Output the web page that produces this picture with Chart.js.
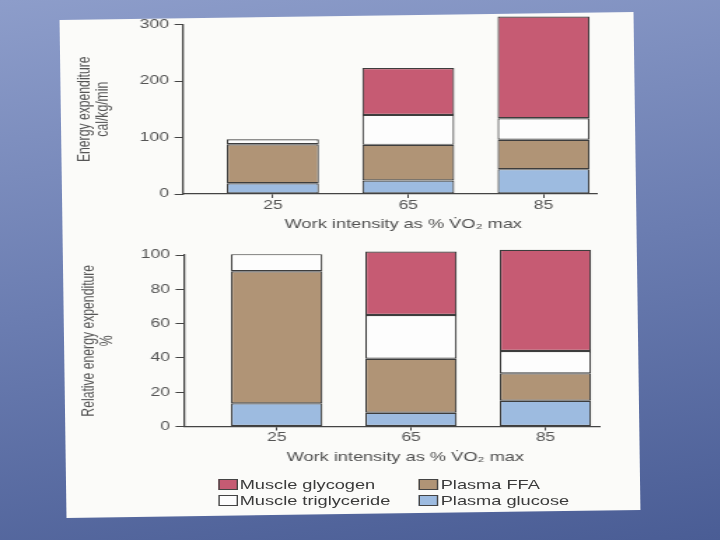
<!DOCTYPE html>
<html><head><meta charset="utf-8">
<script src="https://cdn.jsdelivr.net/npm/chart.js@4.4.1/dist/chart.umd.min.js"></script>
<style>
html,body{margin:0;padding:0;width:720px;height:540px;overflow:hidden;}
body{position:relative;background:linear-gradient(172deg,#8d9dca 0%,#6b7db1 50%,#4a5d95 100%);font-family:'Liberation Sans',Arial,sans-serif;}
#page{position:absolute;left:63px;top:16px;width:574px;height:498px;background:#fbfbf9;transform:rotate(-0.8deg);}
#stretch{position:absolute;left:0;top:0;width:514.29px;height:540px;transform:scaleX(1.4);transform-origin:0 0;}
#c1{position:absolute;left:0;top:0;}
#c2{position:absolute;left:0;top:240px;}
#legend{position:absolute;left:155.7px;top:477px;display:grid;grid-template-columns:143.6px auto;grid-template-rows:15.7px 15.7px;grid-auto-flow:column;font-size:13px;color:#3a3a3a;}
#legend .it{display:flex;align-items:center;white-space:nowrap;line-height:15.7px;}
#legend .bx{width:12px;height:9px;border:1px solid #444;margin-right:1.5px;}
</style></head>
<body>
<div id="page"></div>
<div id="stretch">
<canvas id="c1" width="514" height="245"></canvas>
<canvas id="c2" width="514" height="240"></canvas>
<div id="legend"></div>
</div>
<script>
// ---- data ----
const categories = ['25', '65', '85'];
const seriesNames = ['Plasma glucose', 'Plasma FFA', 'Muscle triglyceride', 'Muscle glycogen'];
const seriesColors = ['#9dbbe0', '#b09476', '#fdfdfd', '#c65b73'];
// absolute energy expenditure, cal/kg/min
const glucoseAbs  = [19, 24, 44];
const ffaAbs      = [69, 63, 52];
const trigAbs     = [9, 53, 38];
const glycogenAbs = [0, 83, 180];
// relative energy expenditure, %
const glucoseRel  = [13.5, 8, 15];
const ffaRel      = [77, 31.5, 16];
const trigRel     = [10, 25.5, 13];
const glycogenRel = [0, 37, 59];
const legendOrder = ['Muscle glycogen', 'Muscle triglyceride', 'Plasma FFA', 'Plasma glucose'];
const xTitle = '\u2003\u2002Work intensity as % V\u0307O\u2082 max';

Chart.defaults.font.family = "'Liberation Sans', Arial, sans-serif";
Chart.defaults.color = '#555';

function makeDatasets(lists) {
  return lists.map((vals, k) => ({
    label: seriesNames[k],
    data: vals.map((v, i) => ({x: i, y: v})),
    backgroundColor: seriesColors[k],
    borderColor: '#3d3d3d',
    borderWidth: 1.2,
    borderSkipped: false,
    barPercentage: 0.68,
    categoryPercentage: 1,
    clip: false
  }));
}

function makeOptions(cfg) {
  return {
    responsive: false,
    animation: false,
    layout: {padding: cfg.padding},
    plugins: {legend: {display: false}, tooltip: {enabled: false}},
    scales: {
      x: {
        type: 'linear', stacked: true, offset: false, min: cfg.xMin, max: cfg.xMax,
        afterBuildTicks: s => { s.ticks = categories.map((c, i) => ({value: i})); },
        afterFit: s => { s.height = cfg.xH; },
        ticks: {callback: v => categories[v], autoSkip: false, padding: 0, color: '#555', font: {size: 12.5}},
        grid: {display: true, offset: false, drawOnChartArea: false, drawTicks: true, tickLength: 4, color: '#444', lineWidth: 1},
        border: {display: true, color: '#444', width: 1.3},
        title: {display: true, text: xTitle, color: '#505050', font: {size: 13}, padding: {top: 0, bottom: 4}}
      },
      y: {
        stacked: true, min: 0, max: cfg.yMax,
        afterFit: s => { s.width = cfg.yW; },
        ticks: {stepSize: cfg.step, padding: 4, color: '#555', font: {size: 12.5}},
        grid: {display: true, drawOnChartArea: false, drawTicks: true, tickLength: 6, color: '#444', lineWidth: 1},
        border: {display: true, color: '#444', width: 1.3},
        title: {display: true, text: cfg.yTitle, color: '#555', font: {size: 12.2, lineHeight: 1.1}, padding: {top: 2, bottom: 0}}
      }
    }
  };
}

new Chart(document.getElementById('c1'), {
  type: 'bar',
  data: {datasets: makeDatasets([glucoseAbs, ffaAbs, trigAbs, glycogenAbs])},
  options: makeOptions({
    padding: {left: 52, top: 24.5, right: 88, bottom: 9},
    xMin: -0.664, xMax: 2.39, xH: 42, yW: 78.7, yMax: 300, step: 100,
    yTitle: ['Energy expenditure', 'cal/kg/min']
  })
});

new Chart(document.getElementById('c2'), {
  type: 'bar',
  data: {datasets: makeDatasets([glucoseRel, ffaRel, trigRel, glycogenRel])},
  options: makeOptions({
    padding: {left: 55, top: 15, right: 86, bottom: 11.2},
    xMin: -0.69, xMax: 2.4, xH: 42.3, yW: 76.4, yMax: 100, step: 20,
    yTitle: ['Relative energy expenditure', '%']
  })
});

const lg = document.getElementById('legend');
legendOrder.forEach(name => {
  const k = seriesNames.indexOf(name);
  const it = document.createElement('div'); it.className = 'it';
  const bx = document.createElement('span'); bx.className = 'bx'; bx.style.background = seriesColors[k];
  const tx = document.createElement('span'); tx.textContent = name;
  it.appendChild(bx); it.appendChild(tx); lg.appendChild(it);
});
</script>
</body></html>
